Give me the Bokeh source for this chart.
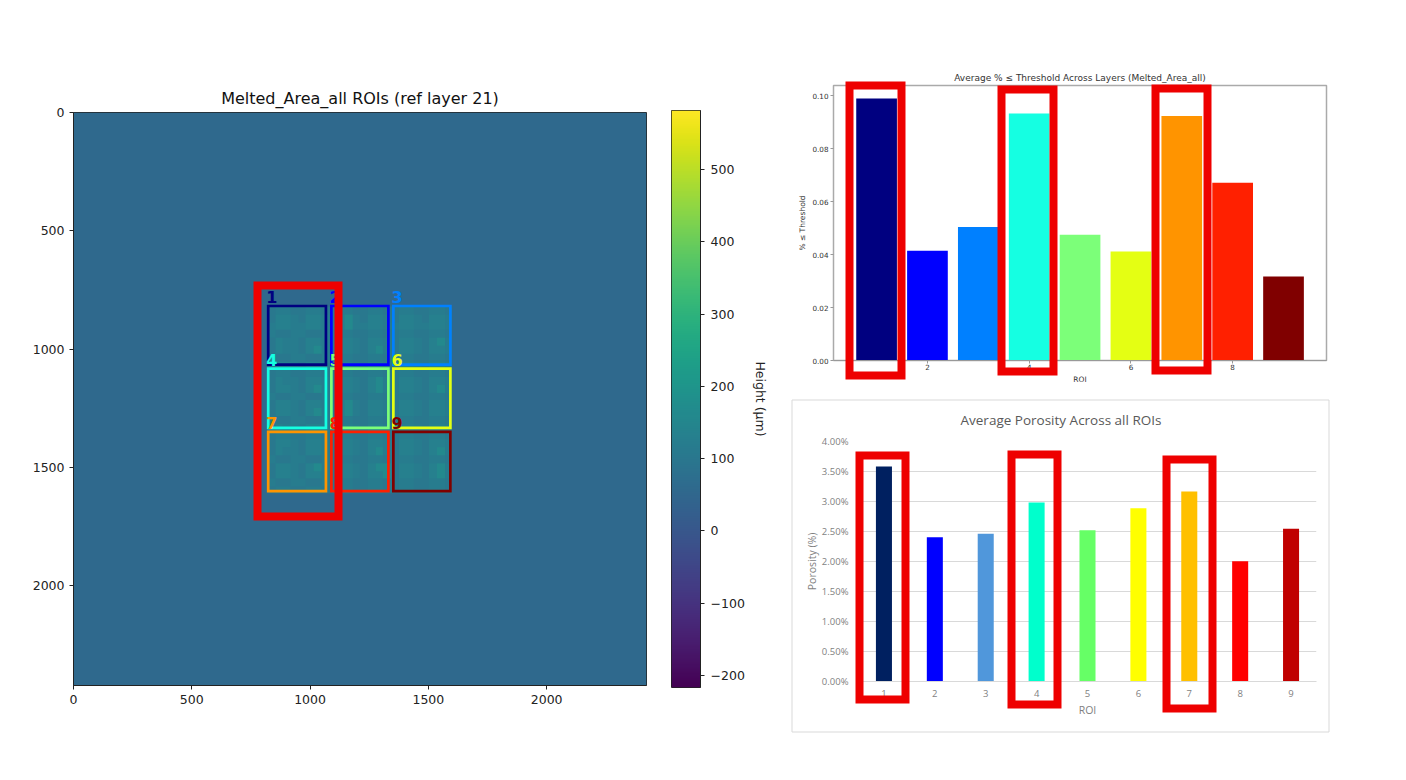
import numpy as np
from bokeh.embed import file_html
from bokeh.resources import INLINE
from bokeh.layouts import row, column
from bokeh.models import FixedTicker, LinearColorMapper, Range1d, NumeralTickFormatter
from bokeh.palettes import Viridis256
from bokeh.plotting import figure
from bokeh.core.properties import value

# ---------- data ----------
roi_ids = [1, 2, 3, 4, 5, 6, 7, 8, 9]
threshold_vals = [0.0990, 0.0415, 0.0504, 0.0933, 0.0475, 0.0412, 0.0924, 0.0672, 0.0317]
porosity_vals = [0.03583, 0.02406, 0.02461, 0.02983, 0.02522, 0.02889, 0.03167, 0.02006, 0.02544]
jet_colors = ["#000080", "#0000ff", "#0080ff", "#15ffe2", "#7cff79", "#e4ff13", "#ff9400", "#ff2000", "#800000"]
office_colors = ["#002060", "#0000ff", "#5097db", "#00ffcc", "#66ff66", "#ffff00", "#ffc000", "#ff0000", "#c00000"]
roi_left = [823, 1090, 1352, 823, 1090, 1352, 823, 1090, 1352]
roi_right = [1067, 1331, 1593, 1067, 1331, 1593, 1067, 1331, 1593]
roi_top = [818, 818, 818, 1083, 1083, 1083, 1350, 1350, 1350]
roi_bottom = [1066, 1066, 1066, 1333, 1333, 1333, 1600, 1600, 1600]
background_level = 55
level_values = [88, 104, 118, 130, 160]
roi_texture = [
    "122112211221122112211221",
    "133213321342133213321332",
    "233223322342233223322332",
    "211221121221122112211221",
    "132213321332133213321342",
    "132213421332134213321332",
    "211221121221122112211221",
    "133213321332133213321332",
    "122112211221122112211221",
    "132213321332134213321332",
    "133213421332134213321342",
    "211221121221122112211221",
    "133213321342133213321332",
    "133213421342133213321332",
    "211221121221122112211221",
    "132213321332133213321332",
    "122112211221122112211221",
    "133213321332133213321332",
    "132213321332134213321342",
    "211221121221122112211221",
    "133213421332134413321342",
    "133213321332133413321342",
    "211221121221122112211221",
    "122112211221122112211221",
]
height_ticks = [-200, -100, 0, 100, 200, 300, 400, 500]
height_labels = {-200: "\u2212200", -100: "\u2212100"}
image_ticks = [0, 500, 1000, 1500, 2000]
# highlight frames: left, right, top, bottom, in page pixels
marker_left = [257, 849, 1001, 1155, 859, 1011, 1166]
marker_right = [338, 901, 1053, 1207, 905, 1057, 1212]
marker_top = [285, 85, 89, 88, 455, 454, 459]
marker_bottom = [516, 375, 371, 370, 699, 704, 708]

RED = "#ee0000"
DJ = "DejaVu Sans"
viridis = LinearColorMapper(palette=Viridis256, low=-217, high=582)


def style_axes(p, size, color, tick_color=None, tick_len=4, label_size=None):
    for ax in p.axis:
        ax.major_label_text_font = DJ
        ax.major_label_text_font_size = size
        ax.major_label_text_color = color
        ax.major_tick_line_color = tick_color or color
        ax.major_tick_out = tick_len
        ax.major_tick_in = 0
        ax.minor_tick_line_color = None
        ax.axis_line_color = tick_color or color
        ax.axis_label_text_font = DJ
        ax.axis_label_text_font_style = "normal"
        ax.axis_label_text_font_size = label_size or size
        ax.axis_label_text_color = color
    p.grid.grid_line_color = None


# ---------- heat map ----------
p1 = figure(width=660, height=760, output_backend="svg", toolbar_location=None,
            x_range=Range1d(0, 2422), y_range=Range1d(2422, 0),
            min_border_left=73, min_border_right=14, min_border_top=112, min_border_bottom=75,
            title="Melted_Area_all ROIs (ref layer 21)")
p1.title.align = "center"
p1.title.text_font = DJ
p1.title.text_font_style = "normal"
p1.title.text_font_size = "16px"
p1.title.text_color = "#111111"
p1.image(image=[np.array([[background_level]], dtype=float)], x=0, y=0, dw=2422, dh=2422, color_mapper=viridis)
tex = np.array([[level_values[int(c)] for c in r] for r in roi_texture], dtype=float)
p1.image(image=[tex], x=820, y=820, dw=780, dh=790, color_mapper=viridis)
for i, r in enumerate(roi_ids):
    p1.quad(left=roi_left[i], right=roi_right[i], top=roi_top[i], bottom=roi_bottom[i],
            fill_alpha=0, line_color=jet_colors[i], line_width=2.7, line_join="miter")
    p1.text(x=[roi_left[i] - 8], y=[roi_top[i] - 37], text=[str(r)], text_color=jet_colors[i],
            text_font=value(DJ), text_font_style="bold", text_font_size="16px",
            text_baseline="alphabetic", text_align="left")
p1.xaxis.ticker = FixedTicker(ticks=image_ticks)
p1.yaxis.ticker = FixedTicker(ticks=image_ticks)
style_axes(p1, "12.5px", "#222222")
p1.outline_line_color = "#222222"
p1.outline_line_alpha = 1

# ---------- colour bar ----------
p2 = figure(width=130, height=760, output_backend="svg", toolbar_location=None,
            x_range=Range1d(0, 1), y_range=Range1d(-217, 582),
            min_border_left=11, min_border_right=90, min_border_top=110, min_border_bottom=73,
            y_axis_location="right")
p2.xaxis.visible = False
p2.image(image=[np.linspace(-217.0, 582.0, 256).reshape(256, 1)], x=0, y=-217, dw=1, dh=799, color_mapper=viridis)
p2.yaxis.ticker = FixedTicker(ticks=height_ticks)
p2.yaxis.major_label_overrides = height_labels
p2.yaxis.axis_label = "Height (\u00b5m)"
style_axes(p2, "12.5px", "#222222")
p2.yaxis.axis_label_standoff = 5
p2.yaxis.major_label_standoff = 6
p2.outline_line_color = "#222222"

# ---------- threshold bars ----------
p3 = figure(width=550, height=395, output_backend="svg", toolbar_location=None,
            x_range=Range1d(0.153, 9.845), y_range=Range1d(0, 0.1039),
            min_border_left=43, min_border_right=14, min_border_top=85, min_border_bottom=35,
            title="Average % \u2264 Threshold Across Layers (Melted_Area_all)")
p3.title.align = "center"
p3.title.text_font = DJ
p3.title.text_font_style = "normal"
p3.title.text_font_size = "9px"
p3.title.text_color = "#333333"
p3.title.standoff = 5
p3.vbar(x=roi_ids, top=threshold_vals, width=0.8, bottom=0, fill_color=jet_colors, line_color=None)
p3.xaxis.ticker = FixedTicker(ticks=[2, 4, 6, 8])
p3.yaxis.ticker = FixedTicker(ticks=[0, 0.02, 0.04, 0.06, 0.08, 0.10])
p3.yaxis.formatter = NumeralTickFormatter(format="0.00")
p3.xaxis.axis_label = "ROI"
p3.yaxis.axis_label = "% \u2264 Threshold"
style_axes(p3, "7.2px", "#333333", tick_color="#999999", tick_len=3, label_size="7.5px")
p3.xaxis.major_label_standoff = 0
p3.yaxis.major_label_standoff = 2
p3.xaxis.axis_label_standoff = 2
p3.yaxis.axis_label_standoff = 2
p3.outline_line_color = "#aaaaaa"
p3.outline_line_width = 1.5
p3.xaxis.axis_line_color = "#999999"
p3.yaxis.axis_line_color = "#aaaaaa"

# ---------- porosity bars ----------
p4 = figure(width=550, height=365, output_backend="svg", toolbar_location=None,
            x_range=Range1d(0.5, 9.5), y_range=Range1d(0, 0.04),
            min_border_left=68, min_border_right=24, min_border_top=46, min_border_bottom=79,
            title="Average Porosity Across all ROIs")
p4.title.align = "left"
p4.title.text_font = "Open Sans"
p4.title.text_font_style = "normal"
p4.title.text_font_size = "13.5px"
p4.title.text_color = "#595959"
p4.title.standoff = 26
p4.title.offset = 102
p4.vbar(x=roi_ids, top=porosity_vals, width=0.315, bottom=0, fill_color=office_colors, line_color=None)
p4.xaxis.ticker = FixedTicker(ticks=roi_ids)
p4.yaxis.ticker = FixedTicker(ticks=[0, 0.005, 0.01, 0.015, 0.02, 0.025, 0.03, 0.035, 0.04])
p4.yaxis.formatter = NumeralTickFormatter(format="0.00%")
p4.xaxis.axis_label = "ROI"
p4.yaxis.axis_label = "Porosity (%)"
style_axes(p4, "9.5px", "#7f7f7f", tick_color="#d9d9d9", tick_len=0, label_size="10.5px")
for ax in p4.axis:
    ax.major_label_text_font = "Open Sans"
    ax.axis_label_text_font = "Open Sans"
p4.yaxis.axis_line_color = None
p4.yaxis.major_tick_line_color = None
p4.xaxis.major_tick_line_color = None
p4.ygrid.grid_line_color = "#d9d9d9"
p4.ygrid.level = "underlay"
p4.outline_line_color = None
p4.yaxis.major_label_standoff = 10
p4.xaxis.major_label_standoff = 8
p4.xaxis.axis_label_standoff = 3
p4.yaxis.axis_label_standoff = 0

# ---------- overlay in page pixels: panel border and highlight frames ----------
ov = figure(width=1340, height=760, output_backend="svg", toolbar_location=None,
            x_range=Range1d(0, 1340), y_range=Range1d(760, 0),
            min_border_left=0, min_border_right=0, min_border_top=0, min_border_bottom=0,
            background_fill_color=None, border_fill_color=None, outline_line_color=None)
ov.axis.visible = False
ov.grid.visible = False
ov.quad(left=791.5, right=1328.5, top=399.5, bottom=731.5, fill_alpha=0, line_color="#d9d9d9", line_width=1)
ov.quad(left=marker_left, right=marker_right, top=marker_top, bottom=marker_bottom,
        fill_alpha=0, line_color=RED, line_width=8, line_join="miter")
ov.styles = {"position": "absolute", "left": "0px", "top": "0px", "pointer-events": "none", "z-index": "10"}

charts = row(column(p1), column(p2), column(column(p3), column(p4)), spacing=0)
page = column(charts, ov)
open("out.html", "w").write(file_html(page, INLINE))
